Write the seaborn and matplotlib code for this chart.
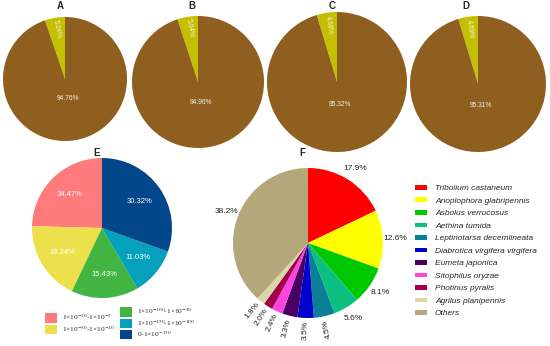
import matplotlib
matplotlib.use("Agg")
import matplotlib.pyplot as plt
import seaborn as sns
from matplotlib.patches import Patch

sns.set_style("white")
plt.rcParams['font.family'] = ['Liberation Sans', 'DejaVu Sans']
plt.rcParams['mathtext.fontset'] = 'stix'

#%% Data
# A-D: two-class split per sample
top_titles = ['A', 'B', 'C', 'D']
top_small = [5.24, 5.04, 4.68, 4.69]
top_large = [94.76, 94.96, 95.32, 95.31]
top_colors = ['#C4BF00', '#8F5F1F']

# E: e-value ranges
e_ranges = [r'1×10$^{-20}$-1×10$^{-5}$', r'1×10$^{-50}$-1×10$^{-20}$',
            r'1×10$^{-100}$-1×10$^{-50}$', r'1×10$^{-150}$-1×10$^{-100}$',
            r'0-1×10$^{-150}$']
e_values = [24.47, 18.24, 15.43, 11.03, 30.32]
e_colors = ['#FF7A7A', '#EDE14B', '#41B441', '#05A0BC', '#03478B']

# F: top species hits
f_species = ['Tribolium castaneum', 'Anoplophora glabripennis', 'Asbolus verrucosus',
             'Aethina tumida', 'Leptinotarsa decemlineata', 'Diabrotica virgifera virgifera',
             'Eumeta japonica', 'Sitophilus oryzae', 'Photinus pyralis',
             'Agrilus planipennis', 'Others']
f_values = [17.9, 12.6, 8.1, 5.6, 4.5, 3.5, 3.3, 2.4, 2.0, 1.8, 38.2]
f_colors = ['#FF0000', '#FFFF00', '#00C800', '#0CC080', '#0A7F98', '#0000CC',
            '#480062', '#FF44DD', '#A3004C', '#D9D7A2', '#B4A779']

#%% Figure
W, H = 550, 346
fig = plt.figure(figsize=(W / 100, H / 100), dpi=100)
no_edge = dict(linewidth=0, edgecolor='none')


def pie_ax(cx, cy, r):
    # square axes placed by pixel centre / radius
    return fig.add_axes([(cx - r) / W, (H - cy - r) / H, 2 * r / W, 2 * r / H])


def title(x, y, s):
    fig.text(x / W, 1 - y / H, s, ha='center', va='center', fontsize=7, fontweight='bold')


#Top row pies
top_pos = [(65, 79, 62), (198, 82, 66), (337, 82, 70), (478, 84, 68)]
top_title_pos = [(60, 6), (192, 6), (332, 6), (466, 6)]
for i in range(4):
    ax = pie_ax(*top_pos[i])
    vals = [top_small[i], top_large[i]]
    wedges, texts = ax.pie(vals, labels=[f'{v:.2f}%' for v in vals], labeldistance=1,
                           colors=top_colors, startangle=90, counterclock=True,
                           wedgeprops=no_edge,
                           textprops=dict(color='#F4F2E6', fontsize=4.8))
    for t, d in zip(texts, [0.82, 0.32]):
        x, y = t.get_position()
        t.set_position((x * d, y * d))
        t.set_ha('center')
        t.set_va('center')
    mid = (wedges[0].theta1 + wedges[0].theta2) / 2
    texts[0].set_rotation(mid - 180)
    ax.set_xlim(-1, 1)
    ax.set_ylim(-1, 1)
    title(*top_title_pos[i], top_titles[i])

#Panel E
ax = pie_ax(102, 228, 70)
wedges, texts = ax.pie(e_values, labels=[f'{v:.2f}%' for v in e_values], labeldistance=1,
                       colors=e_colors, startangle=90, counterclock=True,
                       wedgeprops=no_edge,
                       textprops=dict(color='white', fontsize=5.5))
for t in texts:
    x, y = t.get_position()
    t.set_position((x * 0.66, y * 0.66))
    t.set_ha('center')
    t.set_va('center')
ax.set_xlim(-1, 1)
ax.set_ylim(-1, 1)
title(97, 153, 'E')

e_handles = [Patch(facecolor=c, edgecolor='none') for c in e_colors]
leg_kw = dict(frameon=False, borderpad=0, borderaxespad=0, handlelength=1.6,
              handleheight=1.6, handletextpad=0.7, labelspacing=0.15,
              prop=dict(family='Liberation Serif', size=5.3))
fig.legend(e_handles[:2], e_ranges[:2], loc='upper left',
           bbox_to_anchor=(45 / W, 1 - 312.5 / H), **leg_kw)
fig.legend(e_handles[2:], e_ranges[2:], loc='upper left',
           bbox_to_anchor=(120 / W, 1 - 306.5 / H), **leg_kw)

#Panel F
ax = pie_ax(308, 243, 75)
wedges, texts = ax.pie(f_values, labels=[f'{v:.1f}%' for v in f_values],
                       labeldistance=1.17, colors=f_colors, startangle=90,
                       counterclock=False, wedgeprops=no_edge,
                       textprops=dict(color='#222222', fontsize=6))
for i, (t, w) in enumerate(zip(texts, wedges)):
    t.set_ha('center')
    t.set_va('center')
    if 4 <= i <= 9:
        mid = (w.theta1 + w.theta2) / 2
        t.set_rotation(mid + 180)
ax.set_xlim(-1, 1)
ax.set_ylim(-1, 1)
title(302, 153, 'F')

f_handles = [Patch(facecolor=c, edgecolor='none') for c in f_colors]
fig.legend(f_handles, f_species, loc='upper left', bbox_to_anchor=(415 / W, 1 - 185 / H),
           frameon=False, borderpad=0, borderaxespad=0, handlelength=1.4,
           handleheight=0.5, handletextpad=1.0, labelspacing=0.62,
           prop=dict(family='Liberation Sans', style='italic', size=6))

fig.savefig('out.png', dpi=100)
